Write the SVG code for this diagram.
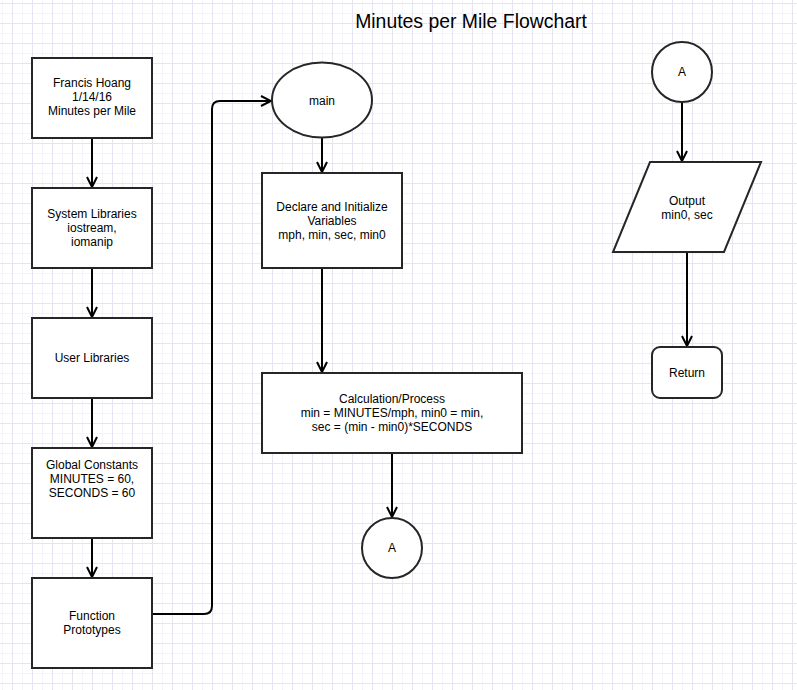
<svg xmlns="http://www.w3.org/2000/svg" width="797" height="690" viewBox="0 0 797 690">
<defs>
<pattern id="grid" x="12" y="3" width="20" height="20" patternUnits="userSpaceOnUse">
<path d="M10.5 0V20M0 10.5H20" stroke="#f3f3f9" stroke-width="1" fill="none"/>
<path d="M0.5 0V20M0 0.5H20" stroke="#e5e5f2" stroke-width="1" fill="none"/>
</pattern>
<marker id="arr" viewBox="0 0 12 12" refX="11" refY="6" markerWidth="12" markerHeight="12" markerUnits="userSpaceOnUse" orient="auto">
<path d="M1 1L11 6L1 11" fill="none" stroke="#000" stroke-width="2"/>
</marker>
</defs>
<style>
.shape{fill:#fff;stroke:#262626;stroke-width:2}
.conn{fill:none;stroke:#000;stroke-width:2}
text{font-family:"Liberation Sans",Arial,sans-serif;font-size:12px;fill:#000;text-anchor:middle}
.title{font-size:19.4px}
</style>
<rect width="797" height="690" fill="#fff"/>
<rect width="797" height="690" fill="url(#grid)"/>
<text class="title" x="471" y="28">Minutes per Mile Flowchart</text>
<g id="connectors">
<path class="conn" d="M92 138V187" marker-end="url(#arr)"/>
<path class="conn" d="M92 268V317" marker-end="url(#arr)"/>
<path class="conn" d="M92 398V447" marker-end="url(#arr)"/>
<path class="conn" d="M92 538V577" marker-end="url(#arr)"/>
<path class="conn" d="M152 614H204Q212 614 212 606V109Q212 101 220 101H271" marker-end="url(#arr)"/>
<path class="conn" d="M322 138V172" marker-end="url(#arr)"/>
<path class="conn" d="M322 268V372" marker-end="url(#arr)"/>
<path class="conn" d="M392 453V517" marker-end="url(#arr)"/>
<path class="conn" d="M682 102V161" marker-end="url(#arr)"/>
<path class="conn" d="M687 252V346" marker-end="url(#arr)"/>
</g>
<g id="n-header">
<rect class="shape" x="32" y="58" width="120" height="80"/>
<text x="92" y="87">Francis Hoang</text>
<text x="92" y="101">1/14/16</text>
<text x="92" y="115">Minutes per Mile</text>
</g>
<g id="n-syslib">
<rect class="shape" x="32" y="188" width="120" height="80"/>
<text x="92" y="218">System Libraries</text>
<text x="92" y="232">iostream,</text>
<text x="92" y="246">iomanip</text>
</g>
<g id="n-userlib">
<rect class="shape" x="32" y="318" width="120" height="80"/>
<text x="92" y="362">User Libraries</text>
</g>
<g id="n-global">
<rect class="shape" x="32" y="448" width="120" height="90"/>
<text x="92" y="469">Global Constants</text>
<text x="92" y="483">MINUTES = 60,</text>
<text x="92" y="497">SECONDS = 60</text>
</g>
<g id="n-proto">
<rect class="shape" x="32" y="578" width="120" height="90"/>
<text x="92" y="620">Function</text>
<text x="92" y="634">Prototypes</text>
</g>
<g id="n-main">
<ellipse class="shape" cx="322" cy="100" rx="50" ry="37.5"/>
<text x="322" y="105">main</text>
</g>
<g id="n-declare">
<rect class="shape" x="262" y="173" width="140" height="95"/>
<text x="332" y="211">Declare and Initialize</text>
<text x="332" y="225">Variables</text>
<text x="332" y="239">mph, min, sec, min0</text>
</g>
<g id="n-calc">
<rect class="shape" x="262" y="373" width="260" height="80"/>
<text x="392" y="403">Calculation/Process</text>
<text x="392" y="417">min = MINUTES/mph, min0 = min,</text>
<text x="392" y="431">sec = (min - min0)*SECONDS</text>
</g>
<g id="n-a1">
<circle class="shape" cx="392" cy="548" r="30"/>
<text x="392" y="552">A</text>
</g>
<g id="n-a2">
<circle class="shape" cx="682" cy="72" r="30"/>
<text x="682" y="76">A</text>
</g>
<g id="n-output">
<polygon class="shape" points="650,162 761,162 724,252 613,252"/>
<text x="687" y="205">Output</text>
<text x="687" y="219">min0, sec</text>
</g>
<g id="n-return">
<rect class="shape" x="652" y="347" width="70" height="51" rx="8"/>
<text x="687" y="377">Return</text>
</g>
</svg>
